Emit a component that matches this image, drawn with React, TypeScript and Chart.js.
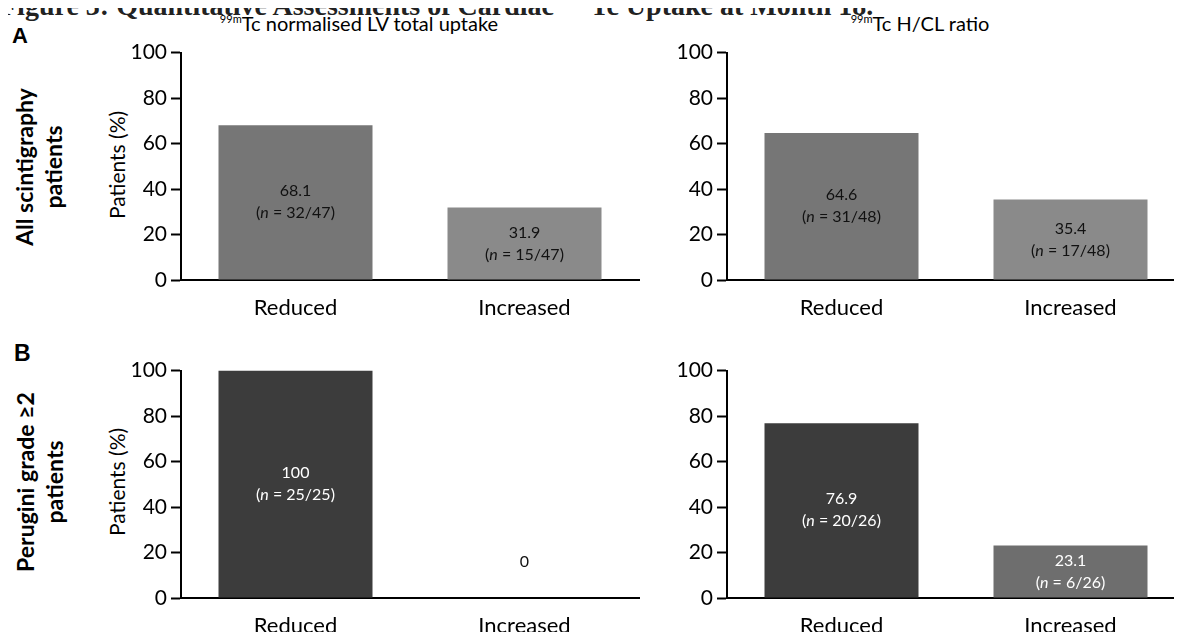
import React, { useEffect, useRef } from 'react';
import { Chart, registerables } from 'chart.js';

Chart.register(...registerables);

// ---- data ----
const categories = ['Reduced', 'Increased'];
const yTickValues = [0, 20, 40, 60, 80, 100];
const lvUptakeAllPct = [68.1, 31.9];
const lvUptakeAllN = ['32/47', '15/47'];
const hclAllPct = [64.6, 35.4];
const hclAllN = ['31/48', '17/48'];
const lvUptakePeruginiPct = [100, 0];
const lvUptakePeruginiN = ['25/25', ''];
const hclPeruginiPct = [76.9, 23.1];
const hclPeruginiN = ['20/26', '6/26'];

const FONT = 'Lato, "Open Sans", sans-serif';

const barLabelPlugin = {
  id: 'barLabels',
  afterDatasetsDraw(chart: any, _args: any, opts: any) {
    const { ctx } = chart;
    const meta = chart.getDatasetMeta(0);
    const ds = chart.data.datasets[0];
    meta.data.forEach((el: any, i: number) => {
      const v = ds.data[i] as number;
      const n = opts.ns[i];
      const { x, y, base } = el.getProps(['x', 'y', 'base'], true);
      ctx.save();
      ctx.textBaseline = 'middle';
      const reg = `16px ${FONT}`;
      const ital = `italic 16px ${FONT}`;
      if (v === 0) {
        ctx.fillStyle = opts.zeroColor;
        ctx.font = reg;
        ctx.textAlign = 'center';
        ctx.fillText('0', x, base - 36);
      } else {
        const mid = (y + base) / 2;
        ctx.fillStyle = opts.color;
        ctx.font = reg;
        ctx.textAlign = 'center';
        ctx.fillText(String(v), x, mid - 11);
        const parts = [
          { t: '(', f: reg },
          { t: 'n', f: ital },
          { t: ` = ${n})`, f: reg },
        ];
        let total = 0;
        parts.forEach((p) => {
          ctx.font = p.f;
          total += ctx.measureText(p.t).width;
        });
        let cx = x - total / 2;
        ctx.textAlign = 'left';
        parts.forEach((p) => {
          ctx.font = p.f;
          ctx.fillText(p.t, cx, mid + 11);
          cx += ctx.measureText(p.t).width;
        });
      }
      ctx.restore();
    });
  },
};

type PanelProps = {
  values: number[];
  ns: string[];
  colors: string[];
  labelColor: string;
  left: number;
  top: number;
  width: number;
  height: number;
  chartLeft: number;
  chartTop: number;
  chartRight: number;
  chartBottom: number;
};

function Panel(p: PanelProps) {
  const ref = useRef<HTMLCanvasElement>(null);
  useEffect(() => {
    if (!ref.current) return;
    const chart = new Chart(ref.current, {
      type: 'bar',
      data: {
        labels: categories,
        datasets: [
          {
            data: p.values,
            backgroundColor: p.colors,
            borderWidth: 0,
            categoryPercentage: 0.6725,
            barPercentage: 1,
          },
        ],
      },
      options: {
        animation: false,
        responsive: false,
        maintainAspectRatio: false,
        layout: {
          padding: {
            top: p.chartTop - p.top,
            right: p.left + p.width - p.chartRight,
            left: 0,
            bottom: 0,
          },
        },
        plugins: {
          legend: { display: false },
          tooltip: { enabled: false },
          title: { display: false },
          barLabels: { ns: p.ns, color: p.labelColor, zeroColor: '#111' },
        } as any,
        scales: {
          x: {
            type: 'category',
            offset: true,
            grid: { display: false, drawTicks: false },
            border: { display: true, color: '#000', width: 2 },
            ticks: {
              color: '#000',
              font: { family: FONT, size: 22 },
              padding: 15,
              maxRotation: 0,
            },
            afterFit: (s: any) => {
              s.height = p.top + p.height - p.chartBottom;
            },
          },
          y: {
            min: 0,
            max: 100,
            afterBuildTicks: (s: any) => {
              s.ticks = yTickValues.map((v) => ({ value: v }));
            },
            grid: {
              display: true,
              drawOnChartArea: false,
              drawTicks: true,
              tickLength: 10,
              tickColor: '#000',
              tickWidth: 2,
            },
            border: { display: true, color: '#000', width: 2 },
            ticks: {
              color: '#000',
              font: { family: FONT, size: 21 },
              padding: 4,
            },
            afterFit: (s: any) => {
              s.width = p.chartLeft - p.left;
            },
          },
        } as any,
      },
      plugins: [barLabelPlugin],
    });
    return () => chart.destroy();
  }, []);
  return (
    <canvas
      ref={ref}
      width={p.width}
      height={p.height}
      style={{ position: 'absolute', left: p.left, top: p.top, width: p.width, height: p.height }}
    />
  );
}

const txt: React.CSSProperties = { position: 'absolute', fontFamily: FONT, color: '#000', whiteSpace: 'nowrap' };

function RotLabel({ x, y, lines, bold, size }: { x: number; y: number; lines: string[]; bold?: boolean; size: number }) {
  return (
    <div
      style={{
        ...txt,
        left: x,
        top: y,
        transform: 'translate(-50%, -50%) rotate(-90deg)',
        textAlign: 'center',
        fontWeight: bold ? 700 : 400,
        fontSize: size,
        lineHeight: '29px',
      }}
    >
      {lines.map((l, i) => (
        <div key={i}>{l}</div>
      ))}
    </div>
  );
}

function Subtitle({ cx, text }: { cx: number; text: string }) {
  return (
    <div style={{ ...txt, left: cx, top: 7, transform: 'translateX(-50%)', fontSize: 20, lineHeight: '24px' }}>
      <sup style={{ fontSize: 11, verticalAlign: 'super' }}>99m</sup>
      {text}
    </div>
  );
}

export default function App() {
  const topColors = ['#767676', '#8a8a8a'];
  const botColors = ['#3c3c3c', '#6e6e6e'];
  return (
    <div style={{ position: 'relative', width: 1182, height: 640, overflow: 'hidden', margin: -8, background: '#fff' }}>
      <div
        style={{
          position: 'absolute',
          left: 0,
          top: -14,
          fontFamily: '"Liberation Serif", serif',
          fontWeight: 700,
          fontSize: 28,
          lineHeight: '28px',
          whiteSpace: 'nowrap',
          color: '#222',
        }}
      >
        Figure 3: Quantitative Assessments of Cardiac <sup style={{ fontSize: 16 }}>99m</sup>Tc Uptake at Month 18.
      </div>
      <Subtitle cx={359} text="Tc normalised LV total uptake" />
      <Subtitle cx={920} text="Tc H/CL ratio" />
      <div style={{ ...txt, left: 12, top: 23, fontSize: 22, fontWeight: 700, fontFamily: '"Liberation Sans", Arial, sans-serif' }}>A</div>
      <div style={{ ...txt, left: 14, top: 340, fontSize: 23, fontWeight: 700, fontFamily: '"Liberation Sans", Arial, sans-serif' }}>B</div>
      <RotLabel x={39} y={167} lines={['All scintigraphy', 'patients']} bold size={23} />
      <RotLabel x={40} y={482} lines={['Perugini grade \u22652', 'patients']} bold size={23} />
      <RotLabel x={116} y={165} lines={['Patients (%)']} size={21} />
      <RotLabel x={116} y={482} lines={['Patients (%)']} size={21} />

      <Panel values={lvUptakeAllPct} ns={lvUptakeAllN} colors={topColors} labelColor="#111"
        left={130} top={36} width={512} height={300} chartLeft={181} chartTop={51} chartRight={639} chartBottom={280} />
      <Panel values={hclAllPct} ns={hclAllN} colors={topColors} labelColor="#111"
        left={676} top={36} width={510} height={300} chartLeft={727} chartTop={51} chartRight={1185} chartBottom={280} />
      <Panel values={lvUptakePeruginiPct} ns={lvUptakePeruginiN} colors={botColors} labelColor="#fff"
        left={130} top={354} width={512} height={286} chartLeft={181} chartTop={369} chartRight={639} chartBottom={598} />
      <Panel values={hclPeruginiPct} ns={hclPeruginiN} colors={botColors} labelColor="#fff"
        left={676} top={354} width={510} height={286} chartLeft={727} chartTop={369} chartRight={1185} chartBottom={598} />
    </div>
  );
}
